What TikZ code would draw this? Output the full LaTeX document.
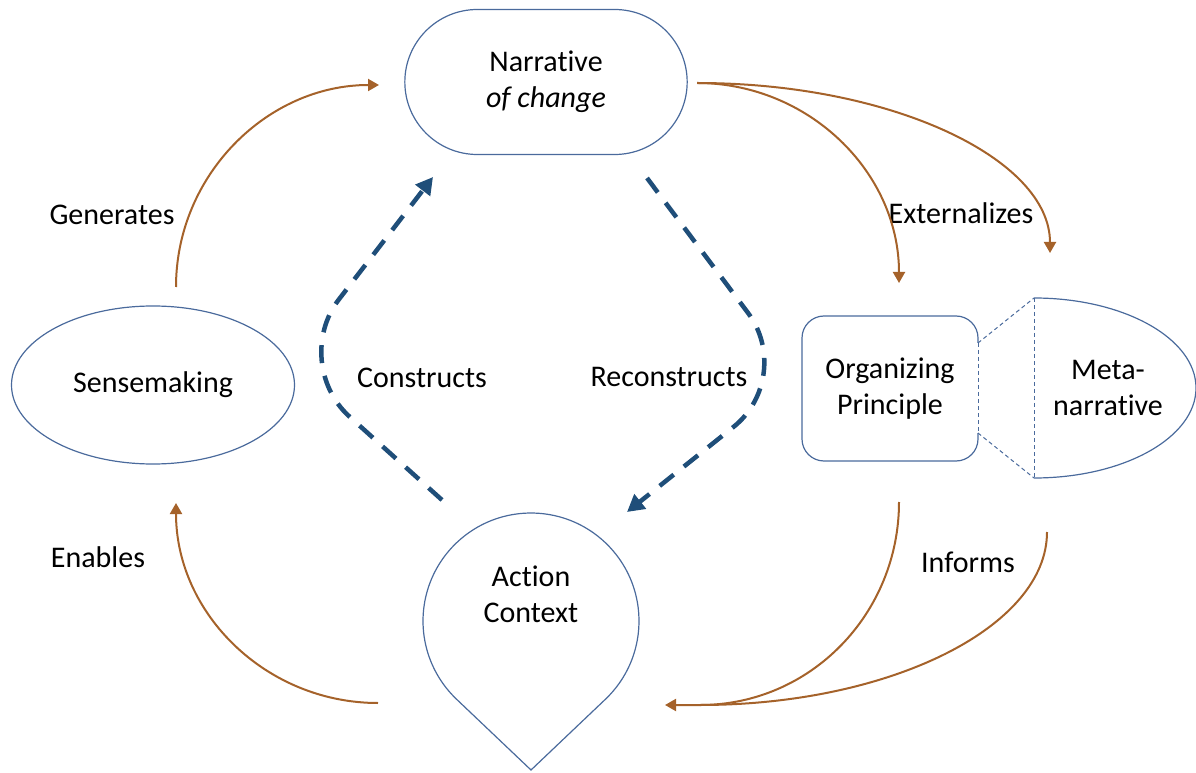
\documentclass[tikz,border=0pt]{standalone}
\usepackage{fontspec}
\setmainfont{Carlito}[Ligatures={NoCommon}]
\usetikzlibrary{arrows.meta,shapes.geometric,shapes.misc}

\definecolor{boxblue}{HTML}{4A6A9C}
\definecolor{dashblue}{HTML}{1F4E79}
\definecolor{arrowbrown}{HTML}{A5622A}

\tikzset{
  outline/.style={draw=boxblue, line width=1.2pt},
  flowline/.style={arrowbrown, line width=2pt},
  flow/.style={flowline, -{Triangle[length=11pt,width=12pt]}},
  dashflow/.style={dashblue, line width=4.5pt, dash pattern=on 18pt off 13pt,
    rounded corners=80pt, -{Triangle[length=17pt,width=18pt]}},
  zoomline/.style={boxblue, line width=1pt, dash pattern=on 4pt off 3pt},
}

\begin{document}
\begin{tikzpicture}[x=1pt,y=1pt,font=\fontsize{30}{36}\selectfont]
\useasboundingbox (0,0) rectangle (1196,772);

% the four shapes
\node[outline, rounded rectangle, minimum width=289, minimum height=145, align=center] (narr) at (546,690) {Narrative\\\textit{of change}};
\node[outline, ellipse, minimum width=283, minimum height=158, inner sep=0] (sense) at (153,387) {Sensemaking};
\node[outline, rounded corners=22, minimum width=176, minimum height=145, align=center] (org) at (890,383.5) {Organizing\\Principle};

% meta-narrative half shape
\coordinate (meta-t) at (1034,474);
\coordinate (meta-b) at (1034,294);
\draw[outline] (meta-t) arc[start angle=90, end angle=-90, x radius=162, y radius=90];
\draw[zoomline] (meta-t) -- (meta-b);
\node[align=center] (meta) at (1108,384) {Meta-\\narrative};

\coordinate (org-t) at (978,429);
\coordinate (org-b) at (978,339);
\draw[white, line width=2.5pt] (org-t) -- (org-b);
\draw[zoomline] (org-t) -- (org-b);
\draw[zoomline] (org-t) -- (meta-t);
\draw[zoomline] (org-b) -- (meta-b);

% action context drop
\coordinate (actc) at (531,151);
\coordinate (acttip) at (531,2);
\draw[outline] (acttip) -- ([shift={(-46.45:108)}]actc) arc[start angle=-46.45, end angle=226.45, radius=108] -- cycle;
\node[align=center] (act) at (531,178) {Action\\Context};

% labels
\node (gen) at (112,557) {Generates};
\node (enab) at (98,215) {Enables};
\node (cons) at (422,394) {Constructs};
\node (recons) at (669,395) {Reconstructs};
\node (ext) at (961,559) {Externalizes};
\node (inf) at (968,210) {Informs};

% brown arrows
\coordinate (gen-a) at (176,485);
\coordinate (gen-b) at (379,687);
\draw[flow] (gen-a) to[out=90,in=180] (gen-b);

\coordinate (en-a) at (378,69);
\coordinate (en-b) at (176,269);
\draw[flow] (en-a) to[out=180,in=-90] (en-b);

\coordinate (ext-a) at (697,689);
\coordinate (ext-b) at (899,489);
\coordinate (ext-c) at (1050,519);
\draw[flow] (ext-a) to[out=0,in=90] (ext-b);
\draw[flow] (ext-a) .. controls +(195,0) and +(0,94) .. (ext-c);

\coordinate (inf-a) at (899,270);
\coordinate (inf-b) at (1047,240);
\coordinate (inf-m) at (700,67);
\coordinate (inf-c) at (665,67);
\draw[flow] (inf-a) to[out=-90,in=0] (inf-m) -- (inf-c);
\draw[flowline] (inf-b) .. controls +(0,-95) and +(190,0) .. (inf-m);

% blue dashed arrows
\coordinate (con-a) at (442,272);
\coordinate (con-m) at (290,409);
\coordinate (con-b) at (433,595);
\draw[dashflow] (con-a) -- (con-m) -- (con-b);

\coordinate (rec-a) at (647,594);
\coordinate (rec-m) at (796,395);
\coordinate (rec-b) at (627,260);
\draw[dashflow] (rec-a) -- (rec-m) -- (rec-b);

\end{tikzpicture}
\end{document}
